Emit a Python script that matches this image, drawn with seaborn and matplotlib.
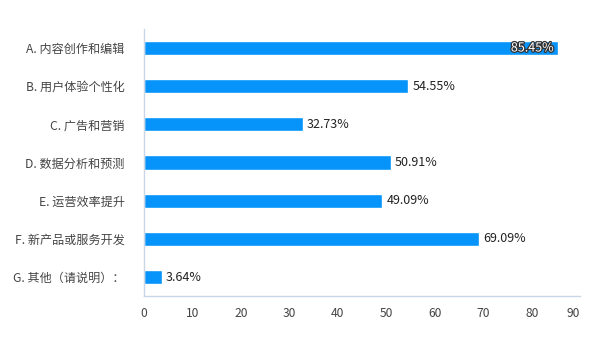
import matplotlib
matplotlib.use("Agg")
import matplotlib.pyplot as plt
import matplotlib.patheffects as pe
import seaborn as sns
import pandas as pd

categories = [
    "A. 内容创作和编辑",
    "B. 用户体验个性化",
    "C. 广告和营销",
    "D. 数据分析和预测",
    "E. 运营效率提升",
    "F. 新产品或服务开发",
    "G. 其他（请说明）：",
]
values = [85.45, 54.55, 32.73, 50.91, 49.09, 69.09, 3.64]
x_ticks = [0, 10, 20, 30, 40, 50, 60, 70, 80, 90]

sns.set_theme(style="white")
plt.rcParams["font.family"] = ["Noto Sans CJK SC", "DejaVu Sans"]

df = pd.DataFrame({"category": categories, "value": values})

fig = plt.figure(figsize=(6, 3.4), dpi=100)
ax = fig.add_axes([0.24, 0.129, 0.727, 0.786])

sns.barplot(data=df, x="value", y="category", orient="h", color="#0693FA",
            saturation=1, width=0.37, ax=ax)

ax.set_xlim(0, 90)
ax.set_xticks(x_ticks)
ax.set_xlabel("")
ax.set_ylabel("")
ax.tick_params(axis="both", length=0, labelsize=8.7, colors="#444444")
ax.tick_params(axis="y", pad=14)
ax.tick_params(axis="x", pad=8)
# keep the last tick label inside the plotting width
ax.get_xticklabels()[-1].set_horizontalalignment("right")
ax.get_xticklabels()[-1].set_x(90.8)

for side in ("top", "right"):
    ax.spines[side].set_visible(False)
for side in ("left", "bottom"):
    ax.spines[side].set_color("#C9D6E8")
    ax.spines[side].set_linewidth(1)

for i, v in enumerate(values):
    label = f"{v:.2f}%"
    if v > 80:
        ax.text(v - 0.9, i, label, ha="right", va="center", fontsize=9,
                color="white",
                path_effects=[pe.withStroke(linewidth=1.8, foreground="#333333")])
    else:
        ax.text(v + 0.9, i, label, ha="left", va="center", fontsize=9,
                color="#222222")

fig.savefig("out.png", dpi=100)
